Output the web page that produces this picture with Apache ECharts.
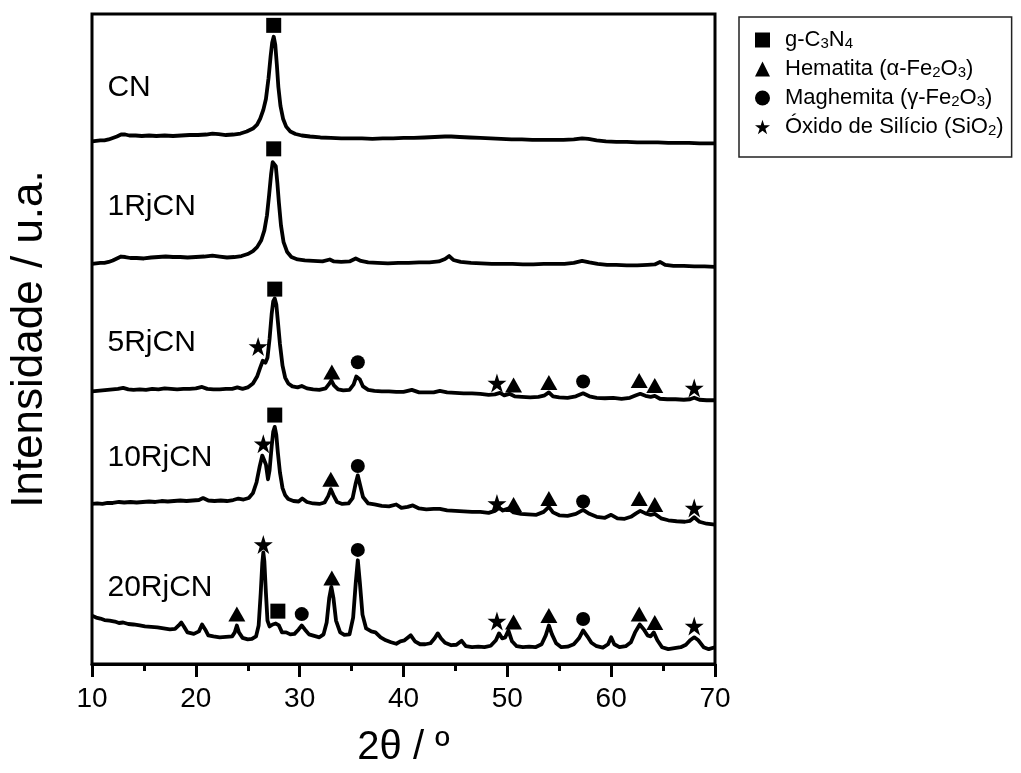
<!DOCTYPE html>
<html>
<head>
<meta charset="utf-8">
<script src="https://cdn.jsdelivr.net/npm/echarts@6/dist/echarts.min.js"></script>
<style>html,body{margin:0;padding:0;background:#fff}#c{width:1021px;height:773px}</style>
</head>
<body>
<div id="c"></div>
<script>
// 2θ (degrees) vs stacked intensity (a.u.)
const xTicks = [10, 20, 30, 40, 50, 60, 70];
const sampleNames = ['CN', '1RjCN', '5RjCN', '10RjCN', '20RjCN'];
const sampleLabelPos = [[11.44, 583], [11.44, 463], [11.44, 325], [11.44, 209], [11.44, 77.5]];

const cnData = [[10,529],[10.4,529.5],[10.8,530],[11.2,530],[11.6,531],[12,532.5],[12.4,534],[12.8,536],[13.2,536],[13.6,535],[14.2,535],[14.8,534.5],[15.5,535],[16.2,534.5],[17,535],[17.8,534.5],[18.6,535],[19.4,535.5],[20.2,535.5],[21,536],[21.6,537],[22.2,536.5],[22.9,535.5],[23.6,536],[24.3,537],[24.9,539],[25.5,542],[25.9,546],[26.2,552],[26.5,561],[26.75,572],[27,593],[27.2,615],[27.35,629],[27.5,635],[27.65,627],[27.8,607],[27.95,584],[28.15,565],[28.4,552],[28.7,544],[29.1,539],[29.6,536.5],[30.2,535],[31,534],[32,533],[33,532.5],[34,532],[35,532],[36,532],[37,531.5],[38,532],[39,532],[40,532.5],[41,532.5],[42,533],[43,533.5],[44,534],[44.6,534],[45.4,533.5],[46.4,533],[47.4,532.5],[48.4,532],[49.4,531.5],[50.4,531],[51.4,531],[52.4,530.5],[53.4,530.5],[54.4,530.5],[55.4,530.5],[56.4,531],[57.2,532],[57.8,531.5],[58.6,530],[59.5,529],[60.5,528.5],[61.5,528.5],[62.5,528],[63.5,528],[64.5,528],[65.5,527.5],[66.5,527.5],[67.5,527.5],[68.5,527],[69.3,527],[70,527]];

const rj1Data = [[10,405],[10.4,405.5],[10.8,406],[11.2,406],[11.6,407],[12,408.5],[12.4,410.5],[12.8,412.5],[13.2,412],[13.7,411],[14.3,411],[15,410.5],[15.7,411.5],[16.4,412],[17.1,412.5],[17.8,412],[18.5,412],[19.2,411.5],[20,412],[20.8,412.5],[21.6,413.5],[22.3,412.5],[23,411.5],[23.7,412],[24.4,413],[25,415],[25.5,418],[25.9,422],[26.3,429],[26.6,439],[26.85,454],[27.05,474],[27.25,496],[27.4,508],[27.55,510],[27.7,504],[27.85,487],[28,467],[28.2,444],[28.45,427],[28.8,417],[29.2,412],[29.8,409.5],[30.5,408.5],[31.3,408],[32.2,407.5],[32.9,409.5],[33.3,407.5],[34,407],[34.8,407.5],[35.4,410.5],[35.9,408],[36.6,406.5],[37.5,406],[38.5,405.5],[39.5,406],[40.5,406],[41.5,406.5],[42.5,406.5],[43.4,407.5],[44,410],[44.4,413],[44.8,409],[45.5,407],[46.5,406],[47.5,405.5],[48.5,405],[49.5,405],[50.5,405],[51.5,404.5],[52.5,404.5],[53.5,405],[54.5,405],[55.5,405],[56.4,406],[57.2,408],[57.9,406.5],[58.7,405],[59.6,404],[60.5,404],[61.5,403.5],[62.5,403.5],[63.5,404],[64.2,404.5],[64.7,407],[65.2,404],[66,403],[67,403],[68,402.5],[69,402.5],[70,402]];

const rj5Data = [[10,276],[10.5,276.5],[11,277],[11.5,277.5],[12,278],[12.5,278.5],[13,279.5],[13.5,278],[14,277.5],[14.6,278],[15.2,277.5],[15.8,278.5],[16.4,278],[17,279],[17.6,278.5],[18.2,278],[18.8,278.5],[19.4,278.5],[20,279],[20.6,280.5],[21.1,278.5],[21.7,278],[22.3,278],[22.9,278.5],[23.5,278.5],[24,280],[24.5,278.5],[25,280],[25.5,284],[25.9,291],[26.2,300],[26.45,307],[26.7,305],[26.9,310],[27.1,329],[27.3,354],[27.45,367],[27.6,370],[27.75,364],[27.9,347],[28.1,324],[28.35,302],[28.6,290],[28.9,284],[29.3,281],[29.8,280],[30.2,281.5],[30.7,279],[31.3,278],[31.9,277.5],[32.5,279],[32.8,283],[33.05,287],[33.3,282],[33.7,278],[34.2,277],[34.8,277.5],[35.2,283],[35.45,291],[35.6,293],[35.8,288],[36.1,281],[36.6,277.5],[37.2,276.5],[37.9,276],[38.6,276],[39.3,275.5],[40,275.5],[40.8,277.5],[41.5,275],[42.2,275],[42.9,275],[43.5,276.5],[44.2,275],[45,274.5],[45.8,274],[46.6,274],[47.4,273.5],[48.2,272.5],[48.8,273],[49.3,274.5],[49.7,272],[50.2,273.5],[50.7,271],[51.4,270.5],[52.2,270],[53,270.5],[53.6,272],[54,275],[54.4,271],[55,270],[55.8,269.5],[56.6,271],[57.3,274],[57.9,271],[58.6,269.5],[59.4,269],[60.2,269.5],[61,268.5],[61.8,269.5],[62.4,272],[62.8,273.5],[63.3,271.5],[63.8,270.5],[64.2,271.5],[64.7,268.5],[65.4,268],[66.2,268],[67,267.5],[67.6,268],[68,269.5],[68.5,267.5],[69.2,267],[70,267]];

const rj10Data = [[10,162],[10.5,162.5],[11,162],[11.5,163],[12,163],[12.6,164],[13.1,163.5],[13.7,164],[14.3,163.5],[14.9,164],[15.5,164.5],[16.1,164],[16.7,165],[17.3,164.5],[17.9,165],[18.5,165.5],[19.1,165],[19.7,165.5],[20.3,166],[20.7,168],[21.2,165.5],[21.8,165],[22.4,165.5],[23,165],[23.6,166],[24.1,167.5],[24.6,166.5],[25.1,168],[25.5,173],[25.85,184],[26.15,200],[26.4,211],[26.55,213],[26.75,202],[26.95,187],[27.1,196],[27.3,220],[27.45,235],[27.6,240],[27.75,232],[27.9,214],[28.1,194],[28.35,178],[28.6,171],[28.9,167],[29.4,165],[29.9,164.5],[30.25,167.5],[30.7,164],[31.3,162.5],[31.9,162],[32.4,163.5],[32.75,170],[33,177],[33.25,171],[33.6,164],[34.1,162],[34.7,162.5],[35.1,168],[35.4,183],[35.6,191],[35.8,182],[36.1,169],[36.6,162.5],[37.2,161.5],[37.9,160],[38.6,159.5],[39.3,161.5],[39.8,158],[40.4,159],[40.9,160.5],[41.5,157.5],[42.2,156.5],[42.9,157],[43.5,157],[44.2,155.5],[45,155],[45.8,154.5],[46.6,154],[47.4,154],[48.2,153],[48.8,155],[49.2,158],[49.6,155.5],[50.1,157.5],[50.6,153.5],[51.3,152],[52,151.5],[52.8,151],[53.5,154],[54,159],[54.4,153.5],[55,150.5],[55.8,150],[56.6,152],[57.3,156],[57.9,152],[58.6,149],[59.4,148],[60,151],[60.6,147.5],[61.3,147],[61.9,149],[62.4,152.5],[62.8,155],[63.3,152.5],[63.8,151],[64.2,152],[64.8,147.5],[65.5,145.5],[66.3,144.5],[67.1,144],[67.6,145],[68,148.5],[68.5,144],[69.2,142],[70,141]];

const rj20Data = [[10,49],[10.4,47],[10.8,46],[11.2,44.5],[11.7,44],[12.2,43],[12.6,41.5],[13,42],[13.5,40.5],[14,40],[14.6,39],[15.1,38],[15.7,37.5],[16.3,37],[16.9,36],[17.5,35],[18,35.5],[18.35,39],[18.6,42],[18.85,38],[19.2,32],[19.8,30.5],[20.3,33],[20.6,40],[20.9,35],[21.2,29],[21.7,28],[22.3,27],[22.9,27.5],[23.5,28],[23.75,32],[23.95,39],[24.15,32],[24.5,26.5],[25,25],[25.4,25.5],[25.8,28],[26.05,39],[26.25,72],[26.4,102],[26.5,113],[26.6,104],[26.75,72],[26.9,44],[27.1,38],[27.4,40],[27.7,41],[28,39],[28.3,32],[28.7,32],[29.1,30],[29.5,30.5],[29.9,35],[30.2,39],[30.5,35],[30.9,30],[31.4,28.5],[31.9,27],[32.3,30],[32.6,42],[32.85,67],[33.05,78],[33.25,67],[33.5,44],[33.9,32],[34.3,29.5],[34.8,30],[35.15,47],[35.4,82],[35.6,105],[35.8,82],[36.05,50],[36.4,36],[36.9,33],[37.3,32],[37.8,27],[38.3,24],[38.8,22],[39.3,20.5],[39.7,23],[40.1,24],[40.7,29],[41.1,23],[41.6,20],[42.1,20],[42.6,21],[43,26],[43.3,31],[43.6,26],[44,21.5],[44.6,19],[45.1,19.5],[45.6,23.5],[46,18],[46.6,17],[47.2,17.5],[47.8,17],[48.4,18.5],[48.9,24],[49.2,31],[49.5,26],[49.8,27],[50.1,34],[50.45,23],[50.9,18],[51.5,17],[52.1,17.5],[52.7,17],[53.3,20],[53.7,29],[54,39],[54.3,30],[54.7,21],[55.2,17],[55.8,17.5],[56.4,20],[56.9,26],[57.3,34],[57.7,28],[58.1,21.5],[58.6,18],[59.2,16.5],[59.7,20],[60,27],[60.3,20],[60.8,17],[61.4,18],[61.9,22],[62.3,32],[62.75,40],[63.15,35],[63.5,29],[63.8,28],[64.1,32],[64.45,24],[64.9,17],[65.5,15],[66.1,16],[66.7,17],[67.2,19.5],[67.6,24],[68,27],[68.4,24],[68.9,17],[69.4,15],[70,17]];

// phase markers [2θ, height]
const squareMarks = [[27.5,646.5],[27.5,521.5],[27.6,379.5],[27.6,252],[27.9,53.5]];
const triangleMarks = [[33.1,295.5],[50.6,282.5],[54.0,285],[62.7,287],[64.2,282],
  [33.0,187],[50.6,161.5],[54.0,167.5],[62.7,167.5],[64.2,161.5],
  [23.95,50.5],[33.1,87],[50.6,42.5],[54.0,49],[62.7,50.5],[64.2,42]];
const circleMarks = [[35.6,305.5],[57.3,286],[35.6,200.5],[57.3,164.5],[30.2,50.5],[35.6,115.5],[57.3,45.5]];
const starMarks = [[26.0,321.5],[49.0,284.5],[68.0,279.5],[26.5,223],[49.0,162.5],[68.0,158],[26.5,121],[49.0,43.5],[68.0,38.5]];

const legendNames = ['g-C3N4', 'Hematita', 'Maghemita', 'SiO2'];
const legendRich = ['g-C{s|3}N{s|4}', 'Hematita (α-Fe{s|2}O{s|3})', 'Maghemita (γ-Fe{s|2}O{s|3})', 'Óxido de Silício (SiO{s|2})'];

const FONT = "'Liberation Sans', Arial, Helvetica, sans-serif";
const STAR = 'path://M50,0 L61.2,34.5 L97.6,34.5 L68.2,55.9 L79.4,90.5 L50,69.1 L20.6,90.5 L31.8,55.9 L2.4,34.5 L38.8,34.5 Z';

const chart = echarts.init(document.getElementById('c'), null, {renderer: 'canvas'});
const traces = [cnData, rj1Data, rj5Data, rj10Data, rj20Data];
const series = traces.map((d, i) => ({
  name: sampleNames[i], type: 'line', data: d, symbol: 'none', silent: true,
  lineStyle: {color: '#000', width: 3.8, join: 'round'}, z: 2
}));
const markStyle = {color: '#000', opacity: 1};
series.push({name: legendNames[0], type: 'scatter', data: squareMarks, symbol: 'rect', symbolSize: 15, itemStyle: markStyle, z: 5, silent: true});
series.push({name: legendNames[1], type: 'scatter', data: triangleMarks, symbol: 'triangle', symbolSize: [17, 15], itemStyle: markStyle, z: 5, silent: true});
series.push({name: legendNames[2], type: 'scatter', data: circleMarks, symbol: 'circle', symbolSize: 14, itemStyle: markStyle, z: 5, silent: true});
series.push({name: legendNames[3], type: 'scatter', data: starMarks, symbol: STAR, symbolSize: 19, itemStyle: markStyle, z: 5, silent: true});
series.push({
  name: 'labels', type: 'scatter', silent: true, symbol: 'circle', symbolSize: 1,
  itemStyle: {color: 'rgba(0,0,0,0)', opacity: 1},
  data: sampleLabelPos.map((p, i) => [p[0], p[1], sampleNames[i]]),
  label: {show: true, position: 'right', distance: 0, formatter: p => p.value[2],
    fontSize: 30, color: '#000', fontFamily: FONT, align: 'left', verticalAlign: 'middle'},
  z: 6
});

chart.setOption({
  animation: false,
  backgroundColor: '#fff',
  grid: {left: 92, right: 306, top: 14, bottom: 101, show: true, borderColor: '#000', borderWidth: 3},
  xAxis: {
    type: 'value', min: 10, max: 70, interval: 10,
    name: '2θ / º', nameLocation: 'middle', nameGap: 64,
    nameTextStyle: {fontSize: 40, color: '#000', fontFamily: FONT},
    axisLine: {show: true, lineStyle: {color: '#000', width: 3}},
    axisTick: {show: true, length: 13, lineStyle: {color: '#000', width: 3}},
    minorTick: {show: true, splitNumber: 2, length: 7, lineStyle: {color: '#000', width: 3}},
    axisLabel: {fontSize: 28, color: '#000', fontFamily: FONT, margin: 21,
      formatter: v => xTicks.indexOf(v) >= 0 ? String(v) : ''},
    splitLine: {show: false}
  },
  yAxis: {
    type: 'value', min: 0, max: 658,
    name: 'Intensidade / u.a.', nameLocation: 'middle', nameGap: 40,
    nameTextStyle: {fontSize: 44, color: '#000', fontFamily: FONT},
    axisLine: {show: false}, axisTick: {show: false}, axisLabel: {show: false}, splitLine: {show: false}
  },
  legend: {
    data: legendNames, orient: 'vertical', left: 739, top: 17,
    padding: [12, 8, 19, 16], itemWidth: 15, itemHeight: 15, itemGap: 7,
    borderColor: '#222', borderWidth: 1.5, selectedMode: false,
    itemStyle: {opacity: 1},
    formatter: name => legendRich[legendNames.indexOf(name)],
    textStyle: {fontSize: 22, lineHeight: 22, color: '#000', fontFamily: FONT, padding: [0, 0, 0, 10],
      rich: {s: {fontSize: 15, lineHeight: 6, verticalAlign: 'bottom', color: '#000', fontFamily: FONT}}}
  },
  series: series
});
</script>
</body>
</html>
